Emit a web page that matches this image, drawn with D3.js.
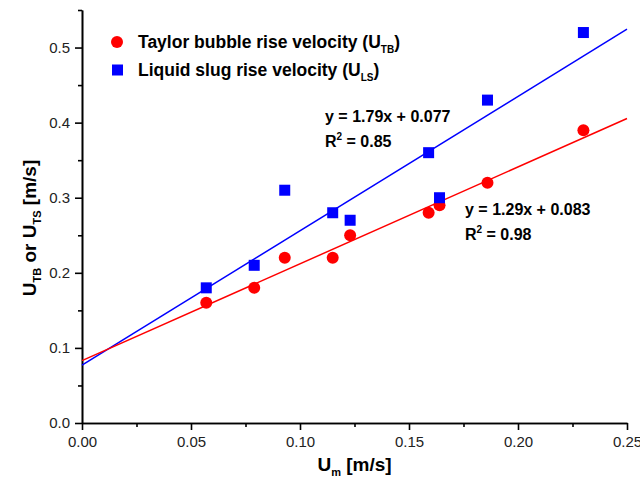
<!DOCTYPE html>
<meta charset="utf-8">
<style>
	body { margin:0; background:#fff; }
	svg { font-family: "Liberation Sans", Arial, sans-serif; }
	.axis path, .axis line { stroke:#000; stroke-width:1.6; }
	.axis text { font-size:15px; fill:#222; font-family: "Liberation Sans", Arial, sans-serif; }
</style>
<script src="https://d3js.org/d3.v7.min.js"></script>
<body>
<script>
	// data
	var um = [0.057, 0.079, 0.093, 0.115, 0.123, 0.159, 0.164, 0.186, 0.230];
	var uTB = [0.16, 0.18, 0.22, 0.22, 0.25, 0.28, 0.29, 0.32, 0.39];
	var uLS = [0.18, 0.21, 0.31, 0.28, 0.27, 0.36, 0.30, 0.43, 0.52];
	var fitTB = [1.29, 0.083]; // slope, intercept
	var fitLS = [1.79, 0.077];
	var xTicks = [0, 0.05, 0.10, 0.15, 0.20, 0.25];
	var yTicks = [0, 0.1, 0.2, 0.3, 0.4, 0.5];

	var width = 640, height = 491;
	var mLeft = 82, mRight = 627, mTop = 10, mBottom = 423;

	var svg = d3.select("body").append("svg")
		.attr("width", width)
		.attr("height", height);

	var x = d3.scaleLinear().domain([0, 0.25]).range([mLeft, mRight]);
	var y = d3.scaleLinear().domain([0, 0.55]).range([mBottom, mTop]);

	// minor ticks halfway between the labelled ones
	var xMinor = [0.025, 0.075, 0.125, 0.175, 0.225];
	var yMinor = [0.05, 0.15, 0.25, 0.35, 0.45, 0.55];

	svg.append("g").attr("class", "axis")
		.attr("transform", "translate(0," + mBottom + ")")
		.call(d3.axisBottom(x).tickValues(xMinor).tickSize(4).tickFormat("").tickSizeOuter(0));
	svg.append("g").attr("class", "axis")
		.attr("transform", "translate(0," + mBottom + ")")
		.call(d3.axisBottom(x).tickValues(xTicks).tickSize(7).tickPadding(6).tickSizeOuter(0)
			.tickFormat(d3.format(".2f")));

	svg.append("g").attr("class", "axis")
		.attr("transform", "translate(" + mLeft + ",0)")
		.call(d3.axisLeft(y).tickValues(yMinor).tickSize(4).tickFormat("").tickSizeOuter(0));
	svg.append("g").attr("class", "axis")
		.attr("transform", "translate(" + mLeft + ",0)")
		.call(d3.axisLeft(y).tickValues(yTicks).tickSize(7).tickPadding(5).tickSizeOuter(0)
			.tickFormat(d3.format(".1f")));

	// fit lines
	function fitLine(f, color) {
		svg.append("line")
			.attr("x1", x(0)).attr("y1", y(f[1]))
			.attr("x2", x(0.25)).attr("y2", y(f[0] * 0.25 + f[1]))
			.attr("stroke", color).attr("stroke-width", 1.5);
	}
	fitLine(fitLS, "#0000ff");
	fitLine(fitTB, "#ff0000");

	// points
	svg.selectAll(".tb").data(um).enter().append("circle")
		.attr("cx", function(d) {return x(d)})
		.attr("cy", function(d, i) {return y(uTB[i])})
		.attr("r", 6)
		.attr("fill", "#ff0000");

	svg.selectAll(".ls").data(um).enter().append("rect")
		.attr("x", function(d) {return x(d) - 5.5})
		.attr("y", function(d, i) {return y(uLS[i]) - 5.5})
		.attr("width", 11).attr("height", 11)
		.attr("fill", "#0000ff");

	// legend
	svg.append("circle").attr("cx", 117).attr("cy", 42).attr("r", 6).attr("fill", "#ff0000");
	svg.append("rect").attr("x", 112).attr("y", 64.5).attr("width", 11).attr("height", 11).attr("fill", "#0000ff");
	var l1 = svg.append("text").attr("x", 138).attr("y", 48)
		.attr("font-size", 17.5).attr("font-weight", "bold");
	l1.append("tspan").text("Taylor bubble rise velocity (U");
	l1.append("tspan").text("TB").attr("font-size", 10).attr("dy", 5);
	l1.append("tspan").text(")").attr("dy", -5);
	var l2 = svg.append("text").attr("x", 138).attr("y", 76)
		.attr("font-size", 17.5).attr("font-weight", "bold");
	l2.append("tspan").text("Liquid slug rise velocity (U");
	l2.append("tspan").text("LS").attr("font-size", 10).attr("dy", 5);
	l2.append("tspan").text(")").attr("dy", -5);

	// equations
	function eq(px, py, f, r2) {
		svg.append("text").attr("x", px).attr("y", py)
			.attr("font-size", 16).attr("font-weight", "bold")
			.text("y = " + f[0].toFixed(2) + "x + " + f[1].toFixed(3));
		var t = svg.append("text").attr("x", px).attr("y", py + 25)
			.attr("font-size", 16).attr("font-weight", "bold");
		t.append("tspan").text("R");
		t.append("tspan").text("2").attr("font-size", 10).attr("dy", -7);
		t.append("tspan").text(" = " + r2).attr("dy", 7);
	}
	eq(325, 122, fitLS, "0.85");
	eq(465, 215, fitTB, "0.98");

	// axis titles
	var xt = svg.append("text").attr("x", (mLeft + mRight) / 2).attr("y", 471)
		.attr("text-anchor", "middle")
		.attr("font-size", 19).attr("font-weight", "bold");
	xt.append("tspan").text("U");
	xt.append("tspan").text("m").attr("font-size", 11).attr("dy", 5);
	xt.append("tspan").text(" [m/s]").attr("dy", -5);

	var yt = svg.append("text")
		.attr("transform", "translate(36,228) rotate(-90)")
		.attr("text-anchor", "middle")
		.attr("font-size", 19).attr("font-weight", "bold");
	yt.append("tspan").text("U");
	yt.append("tspan").text("TB").attr("font-size", 11).attr("dy", 5);
	yt.append("tspan").text(" or U").attr("dy", -5);
	yt.append("tspan").text("TS").attr("font-size", 11).attr("dy", 5);
	yt.append("tspan").text(" [m/s]").attr("dy", -5);
</script>
</body>
